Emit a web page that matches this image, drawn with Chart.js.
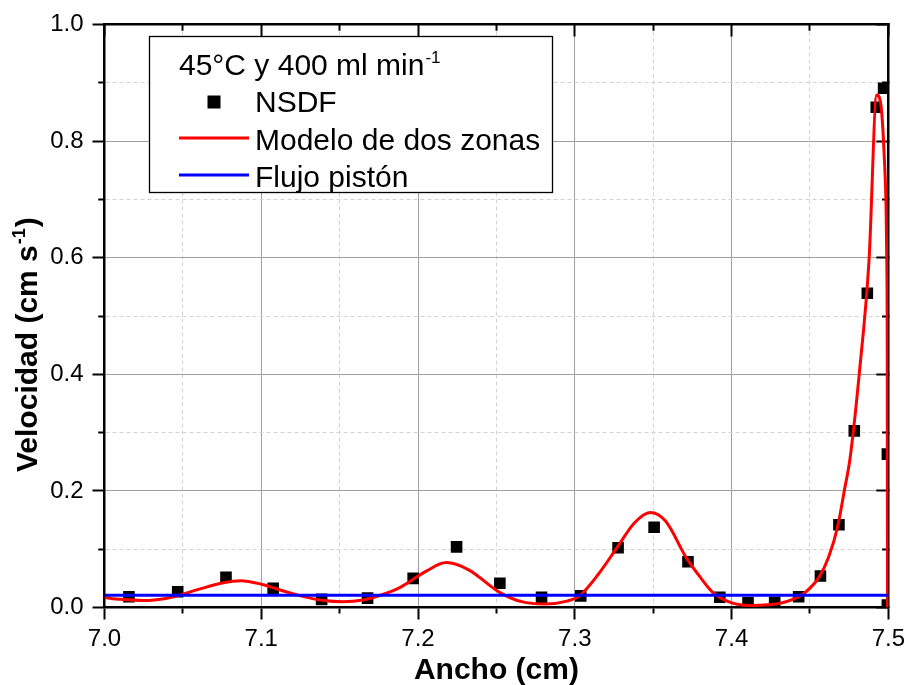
<!DOCTYPE html>
<html><head><meta charset="utf-8">
<script src="https://cdn.jsdelivr.net/npm/chart.js@4.4.0/dist/chart.umd.min.js"></script>
<style>html,body{margin:0;padding:0;background:#fff}#wrap{width:910px;height:685px}</style>
</head><body><div id="wrap"><canvas id="c" width="910" height="685"></canvas></div>
<script>
// ---- data ----
const nsdfX = [7.0156, 7.0467, 7.0775, 7.1076, 7.1385, 7.1678, 7.1969, 7.2246, 7.2522, 7.2788, 7.3038, 7.3276, 7.3506, 7.3722, 7.3925, 7.4105, 7.4275, 7.4428, 7.4567, 7.4685, 7.4783, 7.4866, 7.4923, 7.4970, 7.4994, 7.4994];
const nsdfY = [0.0185, 0.027, 0.052, 0.033, 0.014, 0.016, 0.050, 0.104, 0.0415, 0.0175, 0.020, 0.1026, 0.1376, 0.0786, 0.0175, 0.0082, 0.009, 0.0185, 0.054, 0.142, 0.303, 0.539, 0.858, 0.8906, 0.263, 0.004];

const modelX = [7.000, 7.010, 7.025, 7.040, 7.047, 7.060, 7.075, 7.087, 7.100, 7.112, 7.125, 7.140, 7.152, 7.165, 7.176, 7.189, 7.205, 7.218, 7.232, 7.252, 7.266, 7.281, 7.295, 7.303, 7.315, 7.327, 7.338, 7.348, 7.358, 7.371, 7.380, 7.388, 7.398, 7.411, 7.425, 7.431, 7.439, 7.4475, 7.456, 7.462, 7.4677, 7.472, 7.4756, 7.4815, 7.4877, 7.4926, 7.4954, 7.4975, 7.4986, 7.4990, 7.4993, 7.4995];
const modelY = [0.017, 0.014, 0.012, 0.016, 0.0205, 0.031, 0.042, 0.046, 0.040, 0.030, 0.020, 0.012, 0.010, 0.013, 0.021, 0.035, 0.062, 0.077, 0.065, 0.026, 0.010, 0.006, 0.011, 0.020, 0.057, 0.103, 0.145, 0.163, 0.148, 0.086, 0.052, 0.026, 0.010, 0.0034, 0.005, 0.0072, 0.014, 0.027, 0.053, 0.087, 0.139, 0.2015, 0.256, 0.402, 0.596, 0.879, 0.859, 0.768, 0.682, 0.596, 0.45, 0.0];

const pistonX = [7.0, 7.5];
const pistonY = [0.021, 0.021];

const seriesLabels = ['NSDF', 'Modelo de dos zonas', 'Flujo pistón'];
const legendTitle = '45°C y 400 ml min';
const legendTitleSup = '-1';
const xTitle = 'Ancho (cm)';
const yTitle = 'Velocidad (cm s';
const yTitleSup = '-1';
const yTitleEnd = ')';

// ---- styling ----
const FONT = "'Liberation Sans', Arial, Helvetica, sans-serif";
const AXW = 2.5, HW = AXW / 2;
const MAJ = 12, MINV = 5;
const isMinorX = v => Math.round(v * 100) % 10 !== 0;
const isMinorY = v => Math.round(v * 10) % 2 !== 0;
const minorOf = (fn) => (ctx) => !!(ctx && ctx.tick && fn(ctx.tick.value));

const pts = (xs, ys) => xs.map((x, i) => ({x, y: ys[i]}));

const deco = {
  id: 'deco',
  afterDraw(chart) {
    const ctx = chart.ctx, a = chart.chartArea, ds = chart.data.datasets;
    ctx.save();
    ctx.textBaseline = 'alphabetic';
    // legend box
    ctx.fillStyle = '#fff';
    ctx.fillRect(149, 36, 404, 157);
    ctx.strokeStyle = '#000'; ctx.lineWidth = 1.3;
    ctx.strokeRect(149.5, 36.5, 403, 156);
    ctx.fillStyle = '#000';
    ctx.font = '30px ' + FONT;
    ctx.textAlign = 'left';
    ctx.fillText(legendTitle, 179, 75);
    let w = ctx.measureText(legendTitle).width;
    ctx.font = '17px ' + FONT;
    ctx.fillText(legendTitleSup, 179 + w + 1, 63);
    // entries
    const rows = [111.5, 149.5, 186.5];
    ctx.font = '30px ' + FONT;
    ctx.fillStyle = ds[0].backgroundColor;
    ctx.fillRect(214 - 6.5, 102 - 6.5, 13, 13);
    ctx.fillStyle = '#000';
    ctx.fillText(ds[0].label, 255, rows[0]);
    for (let i = 1; i < 3; i++) {
      ctx.strokeStyle = ds[i].borderColor; ctx.lineWidth = 3;
      ctx.beginPath(); ctx.moveTo(179, rows[i] - 11.5); ctx.lineTo(249, rows[i] - 11.5); ctx.stroke();
      ctx.fillStyle = '#000';
      ctx.fillText(ds[i].label, 255, rows[i]);
    }
    // x title
    ctx.font = 'bold 30px ' + FONT;
    ctx.textAlign = 'center';
    ctx.fillText(xTitle, (a.left + a.right) / 2, 679);
    // y title
    ctx.translate(37, 472);
    ctx.rotate(-Math.PI / 2);
    ctx.textAlign = 'left';
    ctx.font = 'bold 30px ' + FONT;
    ctx.fillText(yTitle, 0, 0);
    w = ctx.measureText(yTitle).width;
    ctx.font = 'bold 18px ' + FONT;
    ctx.fillText(yTitleSup, w + 1, -12);
    const w2 = ctx.measureText(yTitleSup).width;
    ctx.font = 'bold 30px ' + FONT;
    ctx.fillText(yTitleEnd, w + w2 + 2, 0);
    ctx.restore();
  }
};

const tickFont = {family: FONT, size: 24};

new Chart(document.getElementById('c'), {
  type: 'scatter',
  data: {
    datasets: [
      {label: seriesLabels[0], data: pts(nsdfX, nsdfY), pointStyle: 'rect', pointRadius: 8.2,
       backgroundColor: '#000000', borderColor: '#000000', borderWidth: 0, showLine: false, order: 3},
      {label: seriesLabels[1], data: pts(modelX, modelY), showLine: true, pointRadius: 0,
       borderColor: '#ff0000', backgroundColor: '#ff0000', borderWidth: 3, tension: 0.4,
       cubicInterpolationMode: 'monotone', order: 2},
      {label: seriesLabels[2], data: pts(pistonX, pistonY), showLine: true, pointRadius: 0,
       borderColor: '#0000ff', backgroundColor: '#0000ff', borderWidth: 3, order: 1}
    ]
  },
  options: {
    responsive: false,
    animation: false,
    events: [],
    devicePixelRatio: 1,
    layout: {padding: {top: 24.5, right: 21.3, left: 0, bottom: 0}},
    plugins: {legend: {display: false}, tooltip: {enabled: false}},
    scales: {
      x: {
        type: 'linear', position: 'bottom', min: 7.0, max: 7.5,
        ticks: {stepSize: 0.05, autoSkip: false, maxRotation: 0, color: '#000', font: tickFont, padding: 5,
                callback: v => isMinorX(v) ? '' : v.toFixed(1)},
        grid: {
          color: c => minorOf(isMinorX)(c) ? '#d2d2d2' : '#a0a0a0', lineWidth: 1,
          tickLength: MAJ, tickColor: '#000', tickWidth: 2,
          tickBorderDash: c => minorOf(isMinorX)(c) ? [MINV, 100] : [],
          tickBorderDashOffset: 0
        },
        border: {display: true, color: '#000', width: AXW, dash: c => minorOf(isMinorX)(c) ? [4, 3] : []},
        afterFit: s => { s.height = 77.5; }
      },
      y: {
        type: 'linear', position: 'left', min: 0, max: 1,
        ticks: {stepSize: 0.1, autoSkip: false, color: '#000', font: tickFont, padding: 9,
                callback: v => isMinorY(v) ? '' : v.toFixed(1)},
        grid: {
          color: c => minorOf(isMinorY)(c) ? '#d2d2d2' : '#a0a0a0', lineWidth: 1,
          tickLength: MAJ, tickColor: '#000', tickWidth: 2,
          tickBorderDash: c => minorOf(isMinorY)(c) ? [MINV, 100] : [],
          tickBorderDashOffset: c => minorOf(isMinorY)(c) ? (MINV - (MAJ - HW)) : 0
        },
        border: {display: true, color: '#000', width: AXW, dash: c => minorOf(isMinorY)(c) ? [4, 3] : []},
        afterFit: s => { s.width = 104.5; }
      },
      x2: {
        type: 'linear', position: 'top', min: 7.0, max: 7.5,
        ticks: {stepSize: 0.05, autoSkip: false, display: false},
        grid: {
          drawOnChartArea: false, tickLength: -MAJ, tickColor: '#000', tickWidth: 2,
          tickBorderDash: c => minorOf(isMinorX)(c) ? [MINV + AXW, 100] : [],
          tickBorderDashOffset: c => minorOf(isMinorX)(c) ? ((MINV + AXW) - (MAJ + HW)) : 0
        },
        border: {display: true, color: '#000', width: AXW},
        afterFit: s => { s.height = 0; }
      },
      y2: {
        type: 'linear', position: 'right', min: 0, max: 1,
        ticks: {stepSize: 0.1, autoSkip: false, display: false},
        grid: {
          drawOnChartArea: false, tickLength: -MAJ, tickColor: '#000', tickWidth: 2,
          tickBorderDash: c => minorOf(isMinorY)(c) ? [MINV + AXW, 100] : [],
          tickBorderDashOffset: 0
        },
        border: {display: true, color: '#000', width: AXW},
        afterFit: s => { s.width = 0; }
      }
    }
  },
  plugins: [deco]
});
</script>
</body></html>
